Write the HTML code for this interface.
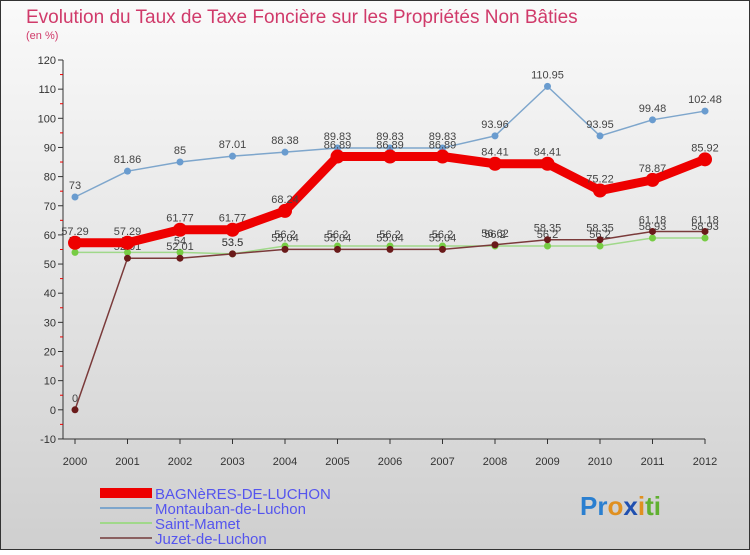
<!DOCTYPE html>
<html><head><meta charset="utf-8"><style>
body{margin:0;width:750px;height:550px;overflow:hidden;font-family:"Liberation Sans",sans-serif}
</style></head><body>
<svg width="750" height="550" xmlns="http://www.w3.org/2000/svg">
<defs><linearGradient id="bg" x1="0" y1="0" x2="0" y2="1"><stop offset="0" stop-color="#fafafa"/><stop offset="1" stop-color="#cfcfcf"/></linearGradient></defs>
<rect x="0.5" y="0.5" width="749" height="549" fill="url(#bg)" stroke="#333"/>
<text x="26" y="23" font-size="19" fill="#d03a6a">Evolution du Taux de Taxe Foncière sur les Propriétés Non Bâties</text>
<text x="26" y="39" font-size="11" fill="#d03a6a">(en %)</text>
<g id="axes"></g>
<g id="series"></g>
<g>
<rect x="100" y="488" width="52" height="10" fill="#ee0000"/>
<text x="155" y="499" font-size="15" fill="#5555ee">BAGNèRES-DE-LUCHON</text>
<line x1="100" y1="508" x2="152" y2="508" stroke="#7ea6cc" stroke-width="2"/>
<text x="155" y="514" font-size="15" fill="#5555ee">Montauban-de-Luchon</text>
<line x1="100" y1="523" x2="152" y2="523" stroke="#a0d88a" stroke-width="2"/>
<text x="155" y="529" font-size="15" fill="#5555ee">Saint-Mamet</text>
<line x1="100" y1="538" x2="152" y2="538" stroke="#8a6060" stroke-width="2"/>
<text x="155" y="544" font-size="15" fill="#5555ee">Juzet-de-Luchon</text>
</g>
<text x="580" y="515" font-size="26" font-weight="bold"><tspan fill="#2a7fd0">Pr</tspan><tspan fill="#e09020">o</tspan><tspan fill="#2050b0">x</tspan><tspan fill="#e09020">i</tspan><tspan fill="#60b030">ti</tspan></text>
</svg>
<script>
const years=[2000,2001,2002,2003,2004,2005,2006,2007,2008,2009,2010,2011,2012];
const yTicks=[-10,0,10,20,30,40,50,60,70,80,90,100,110,120];
const bagneres=[57.29,57.29,61.77,61.77,68.24,86.89,86.89,86.89,84.41,84.41,75.22,78.87,85.92];
const montauban=[73,81.86,85,87.01,88.38,89.83,89.83,89.83,93.96,110.95,93.95,99.48,102.48];
const saintMamet=[54,54,54,53.5,56.2,56.2,56.2,56.2,56.2,56.2,56.2,58.93,58.93];
const juzet=[0,52.01,52.01,53.5,55.04,55.04,55.04,55.04,56.62,58.35,58.35,61.18,61.18];
const NS="http://www.w3.org/2000/svg";
const xs=i=>75+i*(630/12);
const ys=v=>409.8-v*2.915;
function mk(t,a,p){const e=document.createElementNS(NS,t);for(const k in a)e.setAttribute(k,a[k]);p.appendChild(e);return e;}
const ax=document.getElementById('axes');
mk('line',{x1:63,y1:ys(120),x2:63,y2:ys(-10),stroke:'#333'},ax);
mk('line',{x1:63,y1:ys(-10),x2:xs(12),y2:ys(-10),stroke:'#333'},ax);
yTicks.forEach(v=>{
 mk('line',{x1:58,y1:ys(v),x2:63,y2:ys(v),stroke:'#333'},ax);
 if(v<120) mk('line',{x1:60,y1:ys(v+5),x2:63,y2:ys(v+5),stroke:'#e00'},ax);
 const t=mk('text',{x:56,y:ys(v)+4,'font-size':11,'text-anchor':'end',fill:'#333'},ax);t.textContent=v;
 
 
});
years.forEach((y,i)=>{
 mk('line',{x1:xs(i),y1:ys(-10),x2:xs(i),y2:ys(-10)+5,stroke:'#333'},ax);
 const t=mk('text',{x:xs(i),y:465,'font-size':11,'text-anchor':'middle',fill:'#333'},ax);t.textContent=y;
 
 
});
const sg=document.getElementById('series');
function series(data,color,w,r,dot,name){
 const g=mk('g',{},sg);
 
 
 mk('polyline',{points:data.map((v,i)=>xs(i)+','+ys(v)).join(' '),fill:'none',stroke:color,'stroke-width':w,'stroke-linejoin':'round'},g);
 data.forEach((v,i)=>{
  const c=mk('circle',{cx:xs(i),cy:ys(v),r:r,fill:dot},g);
  
  
  const t=mk('text',{x:xs(i),y:ys(v)-8,'font-size':11,'text-anchor':'middle',fill:'#444'},g);t.textContent=v;
  
  
 });
}
series(montauban,'#7ea6cc',1.5,3.5,'#6a9ccf','montauban-series');
series(saintMamet,'#a0d88a',1.5,3.5,'#77cc44','saint-mamet-series');
series(juzet,'#7a3a3a',1.5,3.5,'#6a1a1a','juzet-series');
series(bagneres,'#ee0000',9,7,'#ee0000','bagneres-series');
</script>
</body></html>
